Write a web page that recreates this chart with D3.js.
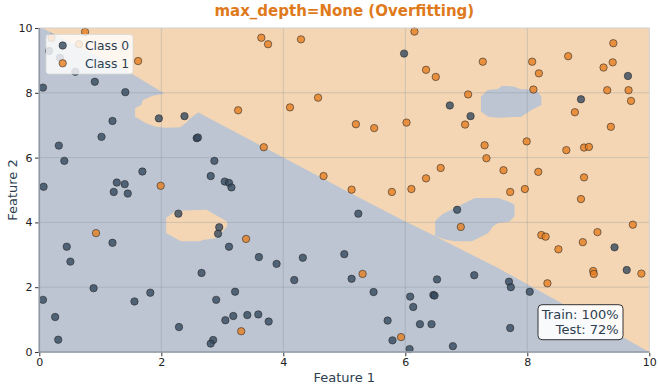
<!DOCTYPE html>
<html>
<head>
<meta charset="utf-8">
<script src="https://cdn.jsdelivr.net/npm/d3@7"></script>
<style>
  body { margin: 0; background: #fff; }
  svg { display: block; font-family: "DejaVu Sans", sans-serif; }
</style>
</head>
<body>
<svg id="chart" width="658" height="385"></svg>
<script>
// class 0 points (feature 1, feature 2)
var class0 = [
  [0.16,9.29],[0.34,9.08],[0.59,8.65],[0.06,8.16],[0.91,8.34],[1.41,8.02],[1.20,7.13],[1.96,7.21],
  [2.38,7.28],[1.02,6.64],[2.58,6.60],[2.60,6.62],[0.32,6.37],[0.41,5.90],[1.69,5.57],[1.27,5.23],
  [1.40,5.18],[0.07,5.10],[1.22,4.94],[1.45,4.89],[2.28,4.27],[1.20,3.37],[0.45,3.25],[0.51,2.79],
  [0.89,1.97],[0.06,1.61],[1.82,1.83],[1.56,1.56],[0.26,1.08],[0.31,0.38],[2.29,0.77],[2.87,5.90],
  [2.81,5.43],[3.04,5.26],[3.11,5.22],[3.15,5.08],[2.95,3.85],[2.93,3.65],[3.11,3.25],[3.60,2.93],
  [3.89,2.72],[4.32,2.91],[5.00,3.02],[2.66,2.44],[4.18,2.22],[3.21,1.86],[2.90,1.61],[3.18,1.11],
  [3.41,1.14],[3.59,1.16],[3.05,0.98],[3.76,0.94],[2.85,0.37],[2.81,0.26],[5.23,4.27],[6.85,4.39],
  [5.12,2.26],[6.52,2.24],[7.13,2.37],[5.48,1.85],[6.08,1.71],[6.46,1.76],[6.48,1.74],[6.13,1.39],
  [5.71,0.97],[6.24,0.86],[6.43,0.86],[5.79,0.36],[6.07,0.09],[6.78,0.18],[9.43,3.23],[9.63,2.53],
  [7.70,2.17],[7.73,2.00],[8.04,1.86],[7.72,0.74],[5.98,9.21],[6.73,7.61],[7.07,7.28],[9.65,8.52],
  [8.88,7.80]
];

// class 1 points
var class1 = [
  [0.20,9.70],[0.65,9.50],[0.75,9.88],[1.62,8.98],[1.99,5.13],[0.93,3.67],[3.39,3.49],[3.31,0.64],
  [5.12,5.01],[5.78,4.94],[6.10,5.03],[6.91,3.86],[5.30,2.41],[5.93,0.46],[7.72,4.94],[7.96,5.03],
  [8.88,4.72],[9.73,3.93],[9.15,3.70],[8.23,3.61],[8.30,3.56],[8.91,3.39],[8.51,3.17],[9.08,2.50],
  [9.09,2.41],[9.87,2.42],[8.33,2.12],[3.64,9.70],[3.75,9.50],[4.29,9.65],[4.57,7.85],[4.11,7.55],
  [3.26,7.46],[3.68,6.32],[4.66,5.43],[6.15,9.89],[7.27,8.96],[6.34,8.71],[6.50,8.49],[7.03,7.95],
  [6.98,7.02],[5.19,7.03],[5.49,6.91],[6.02,7.08],[7.30,6.38],[7.33,5.98],[7.61,5.61],[6.58,5.68],
  [6.34,5.36],[9.41,9.53],[8.67,9.13],[8.08,8.96],[8.19,8.60],[9.25,8.78],[9.40,8.94],[8.10,8.10],
  [9.31,8.08],[9.66,8.08],[9.70,7.75],[8.78,7.40],[9.37,6.95],[7.99,6.50],[8.64,6.23],[8.93,6.31],
  [9.01,6.33],[8.18,5.56],[8.93,5.39]
];

// decision regions (data units)
var region0 = [
  [0,0],[0,10],[0.05,10],[1.53,8.57],[2.05,7.98],[1.86,7.91],[1.70,7.78],[1.67,7.62],[1.57,7.52],
  [1.57,7.26],[1.75,7.06],[1.91,6.95],[2.08,6.92],[2.31,6.94],[2.42,7.10],[2.47,7.21],[2.61,7.40],
  [2.66,7.34],[5.05,4.95],[6.00,4.03],[6.49,3.58],[6.65,3.42],[7.52,2.59],[10,0]
];
var island0a = [
  [6.49,4.04],[6.60,4.24],[7.14,4.75],[7.52,4.75],[7.68,4.65],[7.79,4.55],[7.79,4.19],[7.71,4.03],
  [7.52,3.98],[7.44,3.88],[7.36,3.67],[7.20,3.52],[7.09,3.42],[6.81,3.42],[6.65,3.47],[6.49,3.58]
];
var island0b = [
  [7.24,7.88],[7.35,8.09],[7.52,8.12],[7.58,8.21],[7.68,8.21],[7.79,8.19],[7.88,8.12],[8.15,8.09],
  [8.23,7.88],[8.23,7.62],[8.07,7.47],[7.90,7.26],[7.52,7.23],[7.36,7.26],[7.24,7.42]
];
var island1 = [
  [2.08,4.14],[2.24,4.36],[2.74,4.39],[3.08,4.03],[3.08,3.88],[2.91,3.52],[2.68,3.46],[2.63,3.42],
  [2.32,3.42],[2.08,3.67]
];

var ticks = [0, 2, 4, 6, 8, 10];
var classNames = ["Class 0", "Class 1"];
var scores = ["Train: 100%", "Test: 72%"];
var title = "max_depth=None (Overfitting)";

var svg = d3.select("#chart");
var x = d3.scaleLinear().domain([0, 10]).range([39.3, 649.3]);
var y = d3.scaleLinear().domain([0, 10]).range([352, 28]);

var blueBg = "#bcc5d1", orangeBg = "#f4d6b4";
var blueDot = "#34495e", orangeDot = "#e67e22";

var line = d3.line().x(function(d) { return x(d[0]); }).y(function(d) { return y(d[1]); });

var plot = svg.append("g");
plot.append("rect")
    .attr("x", x(0)).attr("y", y(10))
    .attr("width", x(10) - x(0)).attr("height", y(0) - y(10))
    .attr("fill", orangeBg);

[region0, island0a, island0b].forEach(function(p) {
  plot.append("path").attr("d", line(p) + "Z").attr("fill", blueBg);
});
plot.append("path").attr("d", line(island1) + "Z").attr("fill", orangeBg);

// grid
var grid = plot.append("g").attr("stroke", "#7f8a99").attr("stroke-opacity", 0.3).attr("stroke-width", 1);
ticks.slice(1, -1).forEach(function(t) {
  grid.append("line").attr("x1", x(t)).attr("x2", x(t)).attr("y1", y(0)).attr("y2", y(10));
  grid.append("line").attr("x1", x(0)).attr("x2", x(10)).attr("y1", y(t)).attr("y2", y(t));
});

function drawPoints(data, color) {
  plot.append("g").selectAll("circle").data(data).join("circle")
      .attr("cx", function(d) { return x(d[0]); })
      .attr("cy", function(d) { return y(d[1]); })
      .attr("r", 3.7)
      .attr("fill", color).attr("fill-opacity", 0.8)
      .attr("stroke", "#222").attr("stroke-opacity", 0.7).attr("stroke-width", 0.8);
}
drawPoints(class0, blueDot);
drawPoints(class1, orangeDot);

// spines
svg.append("rect")
    .attr("x", x(0)).attr("y", y(10))
    .attr("width", x(10) - x(0)).attr("height", y(0) - y(10))
    .attr("fill", "none").attr("stroke", "#cfcfcf").attr("stroke-width", 1);
svg.append("line").attr("x1", x(0)).attr("x2", x(0)).attr("y1", y(10)).attr("y2", y(0) + 0.8)
    .attr("stroke", "#8e98a6").attr("stroke-width", 1.6);
svg.append("line").attr("x1", x(0) - 0.8).attr("x2", x(10)).attr("y1", y(0)).attr("y2", y(0))
    .attr("stroke", "#8e98a6").attr("stroke-width", 1.6);

// axes
var xAxis = svg.append("g").attr("transform", "translate(0," + (y(0) + 0.8) + ")")
    .call(d3.axisBottom(x).tickValues(ticks).tickSize(3.5).tickPadding(2).tickFormat(d3.format("d")));
var yAxis = svg.append("g").attr("transform", "translate(" + (x(0) - 0.8) + ",0)")
    .call(d3.axisLeft(y).tickValues(ticks).tickSize(3.5).tickPadding(2.5).tickFormat(d3.format("d")));
[xAxis, yAxis].forEach(function(a) {
  a.select(".domain").remove();
  a.selectAll(".tick line").attr("stroke", "#333");
  a.selectAll(".tick text").attr("fill", "#222").style("font-size", "11px")
      .style("font-family", "DejaVu Sans, sans-serif");
});

// labels
svg.append("text").attr("x", (x(0) + x(10)) / 2).attr("y", 382)
    .attr("text-anchor", "middle").attr("fill", "#2c3e50").style("font-size", "13px").text("Feature 1");
svg.append("text").attr("transform", "translate(17," + ((y(0) + y(10)) / 2) + ") rotate(-90)")
    .attr("text-anchor", "middle").attr("fill", "#2c3e50").style("font-size", "13px").text("Feature 2");
svg.append("text").attr("x", (x(0) + x(10)) / 2).attr("y", 16)
    .attr("text-anchor", "middle").attr("fill", "#df7a1c").style("font-size", "15px")
    .style("font-weight", "bold").text(title);

// legend
var lg = svg.append("g").attr("transform", "translate(46,34.5)");
lg.append("rect").attr("width", 87).attr("height", 39.5).attr("rx", 3)
    .attr("fill", "#fff").attr("fill-opacity", 0.8).attr("stroke", "#d8d8d8").attr("stroke-width", 0.8);
[blueDot, orangeDot].forEach(function(c, i) {
  var ly = 11 + i * 17.8;
  lg.append("circle").attr("cx", 16.7).attr("cy", ly).attr("r", 3.7)
      .attr("fill", c).attr("fill-opacity", 0.8)
      .attr("stroke", "#222").attr("stroke-opacity", 0.7).attr("stroke-width", 0.8);
  lg.append("text").attr("x", 39).attr("y", ly + 4.4).attr("fill", "#2c3e50")
      .style("font-size", "12.3px").text(classNames[i]);
});

// score box
var sb = svg.append("g").attr("transform", "translate(538,304.7)");
sb.append("rect").attr("width", 85).attr("height", 35).attr("rx", 4)
    .attr("fill", "#fff").attr("fill-opacity", 0.9).attr("stroke", "#333").attr("stroke-width", 1);
scores.forEach(function(s, i) {
  sb.append("text").attr("x", 80.7).attr("y", 14.3 + i * 15).attr("text-anchor", "end")
      .attr("fill", "#2c3e50").style("font-size", "13px").text(s);
});
</script>
</body>
</html>
